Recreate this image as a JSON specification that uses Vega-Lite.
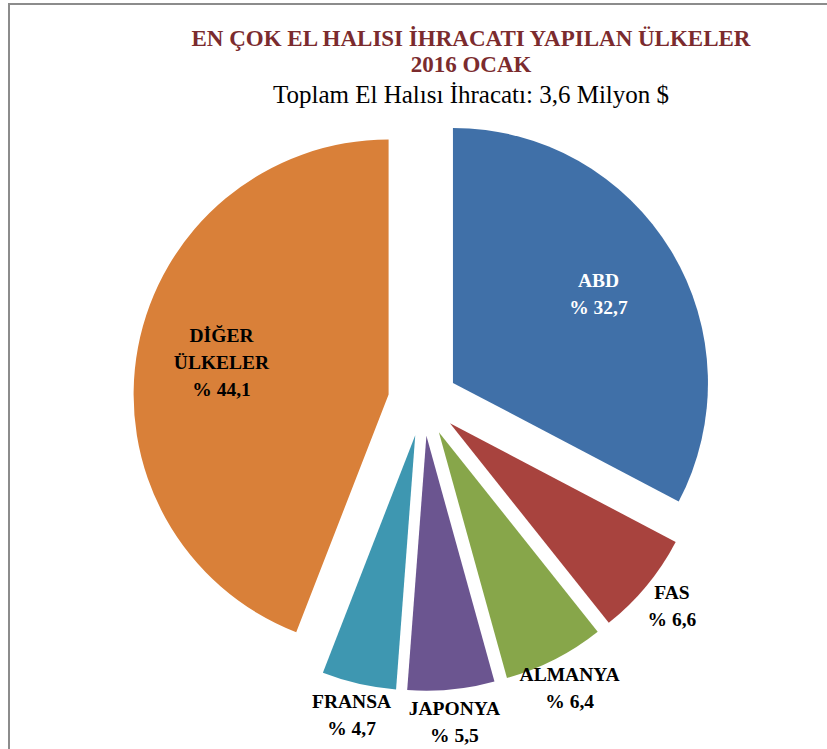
{
  "$schema": "https://vega.github.io/schema/vega-lite/v6.json",
  "autosize": {"type": "none"},
  "width": 828,
  "height": 794,
  "padding": {"left": 9, "top": 4, "right": 0, "bottom": 0},
  "background": "white",
  "view": {"stroke": "#8c8c8c", "strokeWidth": 2},
  "title": {
    "text": ["EN ÇOK EL HALISI İHRACATI YAPILAN ÜLKELER", "2016 OCAK"],
    "subtitle": "Toplam El Halısı İhracatı: 3,6 Milyon $",
    "font": "Liberation Serif",
    "fontSize": 23,
    "fontWeight": "bold",
    "color": "#7B2B2E",
    "lineHeight": 26,
    "subtitleFont": "Liberation Serif",
    "subtitleFontSize": 25,
    "subtitleColor": "#000000",
    "subtitlePadding": 6,
    "anchor": "middle",
    "dx": 48,
    "offset": -104
  },
  "data": {
    "values": [
      {"sira": 1, "ulke": "ABD", "pct": 32.7},
      {"sira": 2, "ulke": "FAS", "pct": 6.6},
      {"sira": 3, "ulke": "ALMANYA", "pct": 6.4},
      {"sira": 4, "ulke": "JAPONYA", "pct": 5.5},
      {"sira": 5, "ulke": "FRANSA", "pct": 4.7},
      {"sira": 6, "ulke": "DİĞER\nÜLKELER", "pct": 44.1}
    ]
  },
  "transform": [
    {"calculate": "datum.ulke + '\\n% ' + replace(format(datum.pct, '.1f'), '.', ',')", "as": "etiket"}
  ],
  "encoding": {
    "theta": {"field": "pct", "type": "quantitative", "stack": true},
    "order": {"field": "sira", "type": "quantitative"}
  },
  "layer": [
    {
      "mark": {
        "type": "arc",
        "radius": 255,
        "xOffset": {"expr": "35*sin(scale('theta', (datum.pct_start + datum.pct_end)/2))"},
        "yOffset": {"expr": "-35*cos(scale('theta', (datum.pct_start + datum.pct_end)/2))"}
      },
      "encoding": {
        "color": {
          "field": "ulke",
          "type": "nominal",
          "legend": null,
          "scale": {
            "domain": ["ABD", "FAS", "ALMANYA", "JAPONYA", "FRANSA", "DİĞER\nÜLKELER"],
            "range": ["#4070A8", "#A8433E", "#87A64A", "#6B5590", "#3E97B1", "#D98039"]
          }
        }
      }
    },
    {
      "mark": {
        "type": "text",
        "font": "Liberation Serif",
        "fontSize": 19.5,
        "fontWeight": "bold",
        "lineBreak": "\n",
        "lineHeight": 27,
        "radius": {"expr": "datum.pct > 20 ? 170 : 288"},
        "fill": {"expr": "datum.ulke == 'ABD' ? '#ffffff' : '#000000'"},
        "xOffset": {"expr": "35*sin(scale('theta', (datum.pct_start + datum.pct_end)/2))"},
        "yOffset": {"expr": "-35*cos(scale('theta', (datum.pct_start + datum.pct_end)/2)) - 13.5*(length(split(datum.etiket, '\\n')) - 1)"}
      },
      "encoding": {
        "text": {"field": "etiket", "type": "nominal"}
      }
    }
  ]
}
